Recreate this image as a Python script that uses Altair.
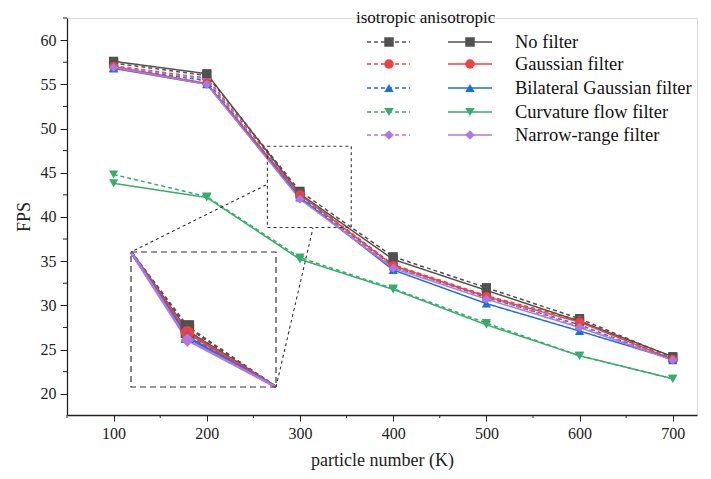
import altair as alt
import pandas as pd

# ---- data ----
particles = [100, 200, 300, 400, 500, 600, 700]
filters = ["No filter", "Gaussian filter", "Bilateral Gaussian filter",
           "Curvature flow filter", "Narrow-range filter"]
types = ["isotropic", "anisotropic"]

iso_no_filter = [57.4, 56.0, 42.9, 35.5, 32.0, 28.5, 24.1]
iso_gaussian = [57.1, 55.7, 42.6, 34.6, 31.1, 28.3, 23.9]
iso_bilateral = [56.9, 55.4, 42.3, 34.4, 30.9, 27.8, 23.8]
iso_curvature = [44.8, 42.3, 35.4, 31.9, 28.0, 24.3, 21.7]
iso_narrow = [57.0, 55.6, 42.2, 34.3, 31.0, 27.6, 23.9]

aniso_no_filter = [57.6, 56.2, 42.6, 35.2, 31.7, 28.2, 24.2]
aniso_gaussian = [57.0, 55.1, 42.5, 34.5, 31.0, 28.1, 23.9]
aniso_bilateral = [56.8, 55.0, 42.2, 34.0, 30.2, 27.1, 23.9]
aniso_curvature = [43.8, 42.2, 35.2, 31.8, 27.8, 24.3, 21.7]
aniso_narrow = [56.9, 55.0, 42.0, 34.2, 30.7, 27.5, 23.8]

x_ticks = [100, 200, 300, 400, 500, 600, 700]
x_minor = [50, 150, 250, 350, 450, 550, 650]
y_ticks = [20, 25, 30, 35, 40, 45, 50, 55, 60]
y_minor = [22.5, 27.5, 32.5, 37.5, 42.5, 47.5, 52.5, 57.5, 62.5]

colors = ["#515151", "#F14040", "#1A6FDF", "#37AD6B", "#B177DE"]
shapes = ["square", "circle", "triangle-up", "triangle-down", "diamond"]

FONT = "Liberation Serif"
W, H = 630, 397

series = {
    ("isotropic", filters[0]): iso_no_filter,
    ("isotropic", filters[1]): iso_gaussian,
    ("isotropic", filters[2]): iso_bilateral,
    ("isotropic", filters[3]): iso_curvature,
    ("isotropic", filters[4]): iso_narrow,
    ("anisotropic", filters[0]): aniso_no_filter,
    ("anisotropic", filters[1]): aniso_gaussian,
    ("anisotropic", filters[2]): aniso_bilateral,
    ("anisotropic", filters[3]): aniso_curvature,
    ("anisotropic", filters[4]): aniso_narrow,
}
rows = []
for (t, f), vals in series.items():
    for xv, yv in zip(particles, vals):
        rows.append({"type": t, "filter": f, "x": xv, "fps": yv,
                     "series": t + "|" + f})
df = pd.DataFrame(rows)

color_enc = alt.Color("filter:N", scale=alt.Scale(domain=filters, range=colors), legend=None)
shape_enc = alt.Shape("filter:N", scale=alt.Scale(domain=filters, range=shapes), legend=None)
dash_enc = alt.StrokeDash("type:N", scale=alt.Scale(domain=types, range=[[4, 3], [1, 0]]), legend=None)

xs = alt.Scale(domain=[50, 726], nice=False, zero=False)
ys = alt.Scale(domain=[17.6, 62.5], nice=False, zero=False)

x_axis = alt.Axis(values=x_ticks, title="particle number (K)", grid=False,
                  tickSize=6, tickColor="#222", domainColor="#222", domainWidth=1.3,
                  labelFont=FONT, labelFontSize=16, labelColor="#222", labelPadding=4,
                  titleFont=FONT, titleFontSize=18, titleFontWeight="normal",
                  titleColor="#222", titlePadding=10)
y_axis = alt.Axis(values=y_ticks, title="FPS", grid=False,
                  tickSize=7, tickColor="#222", domainColor="#222", domainWidth=1.3,
                  labelFont=FONT, labelFontSize=16, labelColor="#222", labelPadding=4,
                  titleFont=FONT, titleFontSize=18, titleFontWeight="normal",
                  titleColor="#222", titlePadding=7)

lines = alt.Chart(df).mark_line(strokeWidth=1.5).encode(
    x=alt.X("x:Q", scale=xs, axis=x_axis),
    y=alt.Y("fps:Q", scale=ys, axis=y_axis),
    color=color_enc, strokeDash=dash_enc, detail="series:N",
)
points = alt.Chart(df).mark_point(filled=True, size=85, opacity=1).encode(
    x=alt.X("x:Q", scale=xs), y=alt.Y("fps:Q", scale=ys),
    color=color_enc, shape=shape_enc,
)

xminor_df = pd.DataFrame({"x": x_minor})
yminor_df = pd.DataFrame({"y": y_minor})
x_minor_ticks = alt.Chart(xminor_df).mark_rule(color="#222", strokeWidth=1, clip=False).encode(
    x=alt.X("x:Q", scale=xs), y=alt.value(H), y2=alt.value(H + 3))
y_minor_ticks = alt.Chart(yminor_df).mark_rule(color="#222", strokeWidth=1, clip=False).encode(
    y=alt.Y("y:Q", scale=ys), x=alt.value(0), x2=alt.value(-4))

zoom_rect = alt.Chart(pd.DataFrame({"a": [0]})).mark_rect(
    fillOpacity=0, stroke="#333", strokeWidth=1.1, strokeDash=[3, 3]).encode(
    x=alt.datum(265), x2=alt.datum(355), y=alt.datum(48), y2=alt.datum(38.8))

main = alt.layer(lines, points, x_minor_ticks, y_minor_ticks, zoom_rect)

# ---- inset (magnified view around x = 300) ----
inset_df = df[(df["filter"] != "Curvature flow filter") & (df["x"].isin([200, 300, 400]))]
ixs = alt.Scale(domain=[265, 355], range=[64, 209], clamp=True, nice=False, zero=False)
iys = alt.Scale(domain=[38.8, 48], range=[369, 234], clamp=True, nice=False, zero=False)
inset_lines = alt.Chart(inset_df).mark_line(strokeWidth=2.6).encode(
    x=alt.X("x:Q", scale=ixs, axis=None), y=alt.Y("fps:Q", scale=iys, axis=None),
    color=color_enc, strokeDash=dash_enc, detail="series:N")
inset_points = alt.Chart(inset_df[inset_df["x"] == 300]).mark_point(
    filled=True, size=180, opacity=1).encode(
    x=alt.X("x:Q", scale=ixs, axis=None), y=alt.Y("fps:Q", scale=iys, axis=None),
    color=color_enc, shape=shape_enc)
inset = alt.layer(inset_lines, inset_points)

one = pd.DataFrame({"a": [0]})
inset_box = alt.Chart(one).mark_rect(fillOpacity=0, stroke="#333", strokeWidth=1.2,
                                     strokeDash=[6, 4]).encode(
    x=alt.value(64), x2=alt.value(209), y=alt.value(234), y2=alt.value(369))
conn1 = alt.Chart(one).mark_rule(stroke="#333", strokeWidth=1.1, strokeDash=[3, 3]).encode(
    x=alt.value(199), y=alt.value(167), x2=alt.value(64), y2=alt.value(234))
conn2 = alt.Chart(one).mark_rule(stroke="#333", strokeWidth=1.1, strokeDash=[3, 3]).encode(
    x=alt.value(209), y=alt.value(369), x2=alt.value(246), y2=alt.value(210))

# ---- custom legend ----
row_y = [24, 46, 70, 94, 117]
leg = pd.DataFrame({"filter": filters, "color": colors, "shape": shapes, "y": row_y})
leg_iso_line = alt.Chart(leg).mark_rule(strokeWidth=1.5, strokeDash=[4, 3]).encode(
    x=alt.value(300), x2=alt.value(343), y=alt.Y("y:Q", scale=None),
    color=alt.Color("color:N", scale=None))
leg_aniso_line = alt.Chart(leg).mark_rule(strokeWidth=1.5).encode(
    x=alt.value(381), x2=alt.value(425), y=alt.Y("y:Q", scale=None),
    color=alt.Color("color:N", scale=None))
leg_iso_pt = alt.Chart(leg).mark_point(filled=True, size=90, opacity=1).encode(
    x=alt.value(322), y=alt.Y("y:Q", scale=None),
    color=alt.Color("color:N", scale=None), shape=alt.Shape("shape:N", scale=None))
leg_aniso_pt = alt.Chart(leg).mark_point(filled=True, size=90, opacity=1).encode(
    x=alt.value(403), y=alt.Y("y:Q", scale=None),
    color=alt.Color("color:N", scale=None), shape=alt.Shape("shape:N", scale=None))
leg_text = alt.Chart(leg).mark_text(align="left", baseline="middle", font=FONT,
                                    fontSize=18.5, color="#111").encode(
    x=alt.value(448), y=alt.Y("y:Q", scale=None), text="filter:N")
leg_head = alt.Chart(one).mark_text(align="left", baseline="middle", font=FONT,
                                    fontSize=17, color="#111",
                                    text="isotropic anisotropic").encode(
    x=alt.value(289), y=alt.value(0))

chart = alt.layer(
    main, inset, inset_box, conn1, conn2,
    leg_iso_line, leg_aniso_line, leg_iso_pt, leg_aniso_pt, leg_text, leg_head,
).resolve_scale(x="independent", y="independent").properties(
    width=W, height=H,
    autosize=alt.AutoSizeParams(type="none"),
    padding={"left": 59, "top": 10, "right": 6, "bottom": 56},
).configure_view(stroke=None).configure(background="white")

chart.save("out.html", embed_options={"renderer": "svg", "actions": False})
